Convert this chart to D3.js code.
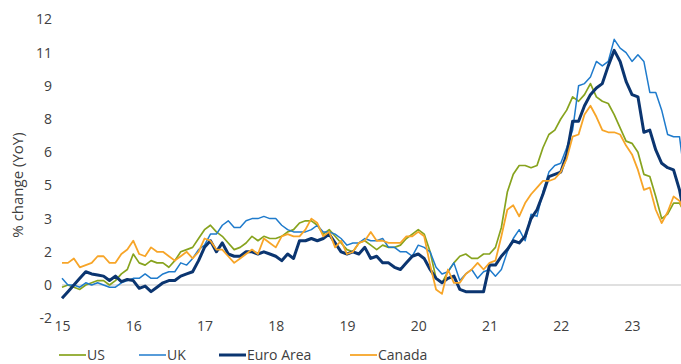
<!DOCTYPE html>
<html>
<head>
<meta charset="utf-8">
<script src="https://cdn.jsdelivr.net/npm/d3@7"></script>
<style>
  html, body { margin: 0; padding: 0; background: #fff; }
  svg { display: block; }
  text { font-family: "Open Sans", "Noto Sans", sans-serif; fill: #404040; }
</style>
</head>
<body>
<svg id="chart" width="681" height="364"></svg>
<script>
// Monthly YoY CPI, Jan 2015 .. Oct 2023
const usValues = [
  -0.1, 0.0, -0.1, -0.2, 0.0, 0.1, 0.2, 0.2, 0.0, 0.2, 0.5, 0.7,
  1.4, 1.0, 0.9, 1.1, 1.0, 1.0, 0.8, 1.1, 1.5, 1.6, 1.7, 2.1,
  2.5, 2.7, 2.4, 2.2, 1.9, 1.6, 1.7, 1.9, 2.2, 2.0, 2.2, 2.1,
  2.1, 2.2, 2.4, 2.5, 2.8, 2.9, 2.9, 2.7, 2.3, 2.5, 2.2, 1.9,
  1.6, 1.5, 1.9, 2.0, 1.8, 1.6, 1.8, 1.7, 1.7, 1.8, 2.1, 2.3,
  2.5, 2.3, 1.5, 0.3, 0.1, 0.6, 1.0, 1.3, 1.4, 1.2, 1.2, 1.4,
  1.4, 1.7, 2.6, 4.2, 5.0, 5.4, 5.4, 5.3, 5.4, 6.2, 6.8, 7.0,
  7.5, 7.9, 8.5, 8.3, 8.6, 9.1, 8.5, 8.3, 8.2, 7.7, 7.1, 6.5,
  6.4, 6.0, 5.0, 4.9, 4.0, 3.0, 3.2, 3.7, 3.7, 3.2
];
const ukValues = [
  0.3, 0.0, 0.0, -0.1, 0.1, 0.0, 0.1, 0.0, -0.1, -0.1, 0.1, 0.2,
  0.3, 0.3, 0.5, 0.3, 0.3, 0.5, 0.6, 0.6, 1.0, 0.9, 1.2, 1.6,
  1.8, 2.3, 2.3, 2.7, 2.9, 2.6, 2.6, 2.9, 3.0, 3.0, 3.1, 3.0,
  3.0, 2.7, 2.5, 2.4, 2.4, 2.4, 2.5, 2.7, 2.4, 2.4, 2.3, 2.1,
  1.8, 1.9, 1.9, 2.1, 2.0, 2.0, 2.1, 1.7, 1.7, 1.5, 1.5, 1.3,
  1.8, 1.7, 1.5, 0.8, 0.5, 0.6, 1.0, 0.2, 0.5, 0.7, 0.3, 0.6,
  0.7, 0.4, 0.7, 1.5, 2.1, 2.5, 2.0, 3.2, 3.1, 4.2, 5.1, 5.4,
  5.5, 6.2, 7.0, 9.0, 9.1, 9.4, 10.1, 9.9, 10.1, 11.1, 10.7, 10.5,
  10.1, 10.4, 10.1, 8.7, 8.7, 7.9, 6.8, 6.7, 6.7, 4.6
];
const euroValues = [
  -0.6, -0.3, 0.0, 0.3, 0.6, 0.5, 0.45, 0.4, 0.2, 0.4, 0.15, 0.25,
  0.2, -0.15, -0.05, -0.3, -0.1, 0.1, 0.2, 0.2, 0.4, 0.5, 0.6, 1.1,
  1.7, 2.0, 1.5, 1.9, 1.4, 1.3, 1.3, 1.5, 1.5, 1.4, 1.5, 1.4,
  1.3, 1.1, 1.4, 1.2, 2.0, 2.0, 2.1, 2.0, 2.1, 2.3, 1.9, 1.5,
  1.4, 1.5, 1.4, 1.7, 1.2, 1.3, 1.0, 1.0, 0.8, 0.7, 1.0, 1.3,
  1.4, 1.2, 0.7, 0.3, 0.1, 0.3, 0.4, -0.2, -0.3, -0.3, -0.3, -0.3,
  0.9, 0.9, 1.3, 1.6, 2.0, 1.9, 2.2, 3.0, 3.4, 4.1, 4.9, 5.0,
  5.1, 5.9, 7.4, 7.4, 8.1, 8.6, 8.9, 9.1, 9.9, 10.6, 10.1, 9.2,
  8.6, 8.5, 6.9, 7.0, 6.1, 5.5, 5.3, 5.2, 4.3, 2.9
];
const canadaValues = [
  1.0, 1.0, 1.2, 0.8, 0.9, 1.0, 1.3, 1.3, 1.0, 1.0, 1.4, 1.6,
  2.0, 1.4, 1.3, 1.7, 1.5, 1.5, 1.3, 1.1, 1.3, 1.5, 1.2, 1.5,
  2.1, 2.0, 1.6, 1.6, 1.3, 1.0, 1.2, 1.4, 1.6, 1.4, 2.1, 1.9,
  1.7, 2.2, 2.3, 2.2, 2.2, 2.5, 3.0, 2.8, 2.2, 2.4, 1.7, 2.0,
  1.4, 1.5, 1.9, 2.0, 2.4, 2.0, 2.0, 1.9, 1.9, 1.9, 2.2, 2.2,
  2.4, 2.2, 0.9, -0.2, -0.4, 0.7, 0.1, 0.1, 0.5, 0.7, 1.0, 0.7,
  1.0, 1.1, 2.2, 3.4, 3.6, 3.1, 3.7, 4.1, 4.4, 4.7, 4.7, 4.8,
  5.1, 5.7, 6.7, 6.8, 7.7, 8.1, 7.6, 7.0, 6.9, 6.9, 6.8, 6.3,
  5.9, 5.2, 4.3, 4.4, 3.4, 2.8, 3.3, 4.0, 3.8, 3.1
];
const seriesNames = ["US", "UK", "Euro Area", "Canada"];
const xTickLabels = ["15", "16", "17", "18", "19", "20", "21", "22", "23"];
const yTickValues = [-1.5, 0, 1.5, 3, 4.5, 6, 7.5, 9, 10.5, 12];
const yTickLabels = ["-2", "0", "2", "3", "5", "6", "8", "9", "11", "12"];
const yTitle = "% change (YoY)";

const styles = {
  "US": { color: "#87a31e", width: 1.7 },
  "UK": { color: "#1f7bcc", width: 1.5 },
  "Euro Area": { color: "#0b3570", width: 3 },
  "Canada": { color: "#f7a528", width: 1.8 }
};
const seriesData = [usValues, ukValues, euroValues, canadaValues];

const svg = d3.select("#chart");
const x = d3.scaleLinear().domain([0, 96]).range([62, 632]);
const y = d3.scaleLinear().domain([-1.5, 12]).range([318.2, 19.4]);

// zero baseline
svg.append("line")
  .attr("x1", 62).attr("x2", 681)
  .attr("y1", y(0)).attr("y2", y(0))
  .attr("stroke", "#d6d6d6").attr("stroke-width", 1.5);

// y axis
const yAxis = d3.axisLeft(y).tickValues(yTickValues)
  .tickFormat((d, i) => yTickLabels[i]).tickSize(0).tickPadding(0);
const gy = svg.append("g").attr("transform", "translate(52,0)").call(yAxis);
gy.select(".domain").remove();
gy.selectAll("text").attr("font-size", 14).attr("fill", "#404040")
  .style("font-family", "'Open Sans', sans-serif");

// x axis
const xAxis = d3.axisBottom(x).tickValues(d3.range(0, 97, 12))
  .tickFormat((d, i) => xTickLabels[i]).tickSize(0).tickPadding(0);
const gx = svg.append("g").attr("transform", "translate(0,321)").call(xAxis);
gx.select(".domain").remove();
gx.selectAll("text").attr("font-size", 14).attr("fill", "#404040")
  .style("font-family", "'Open Sans', sans-serif");

// y title
svg.append("text")
  .attr("transform", "translate(23,185) rotate(-90)")
  .attr("text-anchor", "middle")
  .attr("font-size", 15)
  .text(yTitle);

// lines
const line = d3.line().x((d, i) => x(i)).y(d => y(d));
seriesNames.forEach((name, k) => {
  svg.append("path")
    .datum(seriesData[k])
    .attr("fill", "none")
    .attr("stroke", styles[name].color)
    .attr("stroke-width", styles[name].width)
    .attr("stroke-linejoin", "round")
    .attr("d", line);
});

// legend
const legendX = [59, 139, 219, 350];
const lg = svg.append("g").attr("transform", "translate(0,355)");
seriesNames.forEach((name, k) => {
  const g = lg.append("g").attr("transform", `translate(${legendX[k]},0)`);
  g.append("line").attr("x1", 0).attr("x2", 27).attr("y1", 0).attr("y2", 0)
    .attr("stroke", styles[name].color).attr("stroke-width", styles[name].width);
  g.append("text").attr("x", 28).attr("y", 0).attr("dy", "0.35em")
    .attr("font-size", 14).text(name);
});
</script>
</body>
</html>
